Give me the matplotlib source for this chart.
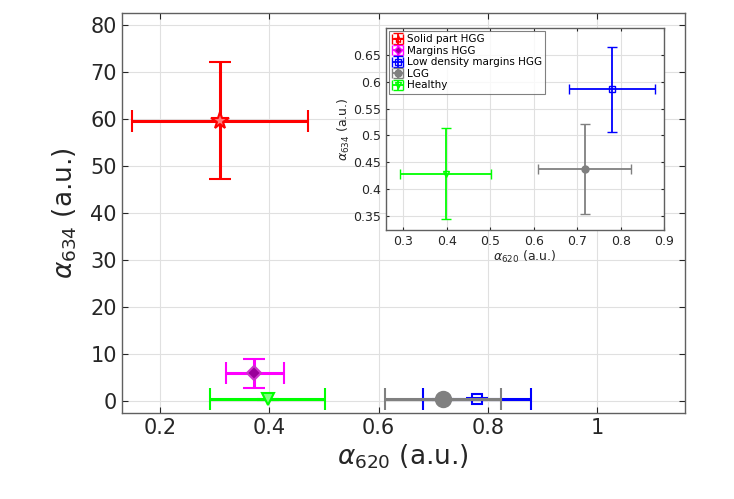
import matplotlib
matplotlib.use("Agg")
import matplotlib.pyplot as plt

labels = ["Solid part HGG", "Margins HGG", "Low density margins HGG", "LGG", "Healthy"]
x_vals = [0.310, 0.372, 0.780, 0.717, 0.398]
x_lo = [0.149, 0.321, 0.681, 0.611, 0.292]
x_hi = [0.471, 0.427, 0.879, 0.823, 0.502]
y_vals = [59.6, 6.0, 0.586, 0.438, 0.429]
y_lo = [47.2, 2.8, 0.506, 0.354, 0.344]
y_hi = [72.0, 8.9, 0.665, 0.522, 0.513]

colors = ["#ff0000", "#ff00ff", "#0000ff", "#808080", "#00ff00"]
faces = ["#ff8080", "#990099", "none", "#808080", "#80ff80"]
markers = ["*", "D", "s", "o", "v"]
msizes_main = [13, 7, 7, 11, 8]
msizes_inset = [6, 4, 4, 5, 5]

plt.rcParams['font.family'] = ['DejaVu Sans']
fig = plt.figure(figsize=(7.34, 4.99), dpi=100)
ax = fig.add_axes([0.166, 0.172, 0.767, 0.802])

def style(a, fs):
    for s in a.spines.values():
        s.set_color("#606060")
        s.set_linewidth(1.0)
    a.tick_params(direction="in", top=True, right=True, labelsize=fs,
                  colors="#262626", length=4, width=0.8)
    a.grid(True, color="#e0e0e0", linewidth=0.8)
    a.set_axisbelow(True)

for i in range(5):
    ax.errorbar(x_vals[i], y_vals[i],
                xerr=[[x_vals[i] - x_lo[i]], [x_hi[i] - x_vals[i]]],
                yerr=[[y_vals[i] - y_lo[i]], [y_hi[i] - y_vals[i]]],
                color=colors[i], ecolor=colors[i], elinewidth=2.2, capsize=8,
                capthick=2.0, marker=markers[i], markersize=msizes_main[i],
                markerfacecolor=faces[i], markeredgecolor=colors[i] if i != 1 else "#cc33cc",
                markeredgewidth=1.5, linestyle="none", zorder=3 + i)

ax.set_xlim(0.13, 1.16)
ax.set_ylim(-2.5, 82.5)
ax.set_xticks([0.2, 0.4, 0.6, 0.8, 1.0])
ax.set_xticklabels(["0.2", "0.4", "0.6", "0.8", "1"])
ax.set_yticks(range(0, 81, 10))
style(ax, 15)
ax.set_xlabel(r"$\alpha_{620}$ (a.u.)", fontsize=19, color="#262626", labelpad=3)
ax.set_ylabel(r"$\alpha_{634}$ (a.u.)", fontsize=19, color="#262626", labelpad=8)

ins = fig.add_axes([0.526, 0.539, 0.379, 0.405])
for i in range(5):
    ins.errorbar(x_vals[i], y_vals[i],
                 xerr=[[x_vals[i] - x_lo[i]], [x_hi[i] - x_vals[i]]],
                 yerr=[[y_vals[i] - y_lo[i]], [y_hi[i] - y_vals[i]]],
                 color=colors[i], ecolor=colors[i], elinewidth=1.3, capsize=3.5,
                 capthick=1.2, marker=markers[i], markersize=msizes_inset[i],
                 markerfacecolor=faces[i] if i in (1, 3) else "none",
                 markeredgecolor=colors[i], markeredgewidth=1.0,
                 linestyle="none", label=labels[i])
ins.set_xlim(0.261, 0.9)
ins.set_ylim(0.324, 0.70)
ins.set_xticks([0.3, 0.4, 0.5, 0.6, 0.7, 0.8, 0.9])
ins.set_xticklabels(["0.3", "0.4", "0.5", "0.6", "0.7", "0.8", "0.9"])
ins.set_yticks([0.35, 0.4, 0.45, 0.5, 0.55, 0.6, 0.65])
ins.set_yticklabels(["0.35", "0.4", "0.45", "0.5", "0.55", "0.6", "0.65"])
style(ins, 9)
ins.tick_params(length=2.5)
ins.set_xlabel(r"$\alpha_{620}$ (a.u.)", fontsize=9, color="#262626", labelpad=1)
ins.set_ylabel(r"$\alpha_{634}$ (a.u.)", fontsize=9, color="#262626", labelpad=1)
leg = ins.legend(loc="upper left", fontsize=7.5, frameon=True, fancybox=False,
                 borderpad=0.3, labelspacing=0.15, handlelength=1.0,
                 handletextpad=0.4, borderaxespad=0.3)
leg.get_frame().set_edgecolor("#606060")
leg.get_frame().set_linewidth(0.8)

fig.savefig("out.png", dpi=100)
